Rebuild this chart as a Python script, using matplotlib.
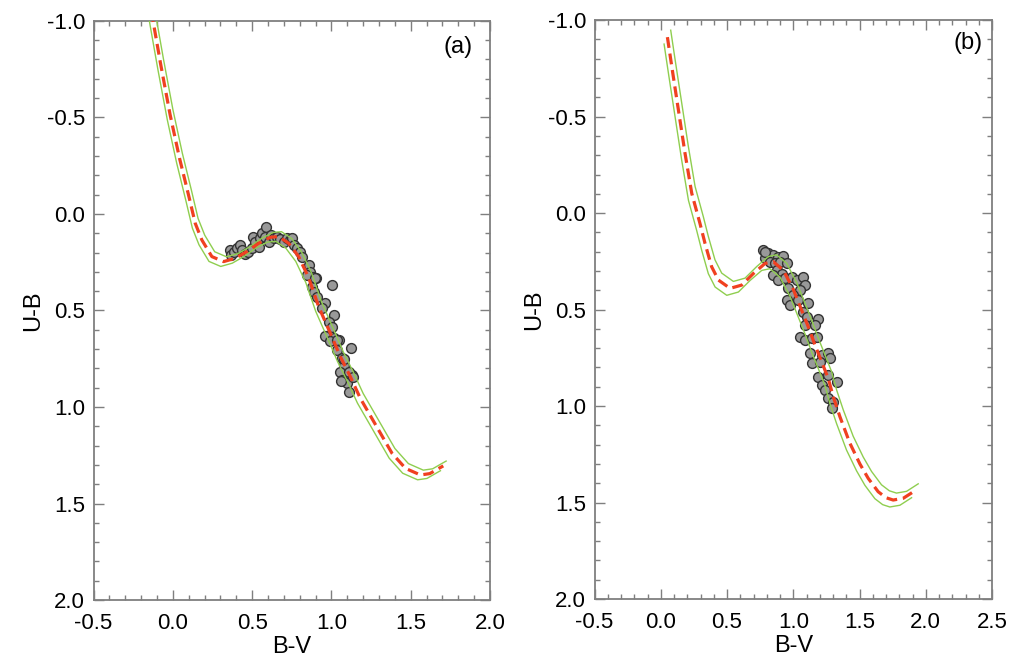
import matplotlib
matplotlib.use("Agg")
import matplotlib.pyplot as plt
from matplotlib.ticker import MultipleLocator

plt.rcParams['font.family'] = ['Liberation Sans', 'DejaVu Sans']

# panel (a): fitted ZAMS (red dashed)
zams_bv_a = [-0.135, -0.126, -0.076, -0.017, 0.042, 0.099, 0.141, 0.183, 0.246, 0.32,
             0.393, 0.467, 0.541, 0.614, 0.667, 0.73, 0.793, 0.856, 0.919, 0.993,
             1.056, 1.119, 1.182, 1.309, 1.382, 1.467, 1.561, 1.62, 1.677, 1.705]
zams_ub_a = [-1.05, -1.005, -0.772, -0.513, -0.289, -0.098, 0.048, 0.135, 0.221, 0.247,
             0.23, 0.195, 0.152, 0.121, 0.117, 0.152, 0.221, 0.33, 0.48, 0.618,
             0.739, 0.843, 0.955, 1.136, 1.24, 1.318, 1.352, 1.345, 1.318, 1.305]
shift_a = (0.018, -0.025)   # offset of the green bounding curves

# panel (a): cluster stars
bv_a = [0.362, 0.366, 0.383, 0.404, 0.425, 0.435, 0.456, 0.477, 0.498, 0.505,
        0.52, 0.541, 0.551, 0.562, 0.589, 0.583, 0.604, 0.618, 0.635, 0.656,
        0.677, 0.698, 0.72, 0.741, 0.751, 0.762, 0.783, 0.799, 0.814, 0.856,
        0.867, 0.884, 0.905, 1.003, 0.877, 0.888, 0.846, 0.898, 0.909, 0.961,
        0.94, 1.014, 0.982, 1.004, 0.968, 1.014, 1.046, 1.124, 1.035, 1.067,
        1.077, 1.056, 1.13, 1.067, 1.098, 1.109, 0.962, 0.989, 1.036, 1.078,
        1.109, 1.137, 1.063]
ub_a = [0.187, 0.212, 0.199, 0.178, 0.161, 0.187, 0.209, 0.199, 0.178, 0.118,
        0.143, 0.169, 0.126, 0.10, 0.066, 0.118, 0.143, 0.109, 0.123, 0.118,
        0.13, 0.143, 0.126, 0.135, 0.123, 0.161, 0.178, 0.199, 0.221, 0.264,
        0.299, 0.325, 0.333, 0.368, 0.377, 0.403, 0.316, 0.333, 0.428, 0.463,
        0.489, 0.523, 0.558, 0.584, 0.632, 0.644, 0.653, 0.696, 0.705, 0.748,
        0.782, 0.817, 0.834, 0.86, 0.874, 0.921, 0.634, 0.658, 0.655, 0.749,
        0.818, 0.844, 0.864]

# panel (b): fitted ZAMS
zams_bv_b = [0.05, 0.083, 0.133, 0.183, 0.234, 0.296, 0.334, 0.384, 0.435, 0.523,
             0.611, 0.699, 0.787, 0.849, 0.925, 1.0, 1.063, 1.113, 1.164, 1.214,
             1.264, 1.302, 1.352, 1.427, 1.503, 1.566, 1.641, 1.70, 1.754, 1.83,
             1.918]
zams_ub_b = [-0.912, -0.76, -0.535, -0.31, -0.102, 0.054, 0.157, 0.278, 0.347, 0.39,
             0.373, 0.313, 0.261, 0.252, 0.296, 0.395, 0.503, 0.589, 0.684, 0.77,
             0.857, 0.952, 1.055, 1.192, 1.30, 1.375, 1.444, 1.475, 1.487, 1.478,
             1.439]
shift_b = (0.025, -0.036)

bv_b = [0.774, 0.812, 0.849, 0.887, 0.925, 0.787, 0.824, 0.862, 0.90, 0.95,
        0.875, 0.912, 0.849, 0.887, 0.937, 0.988, 1.025, 1.076, 1.088, 1.05,
        0.962, 1.0, 0.95, 0.975, 1.038, 1.113, 1.076, 1.101, 1.189, 1.088,
        1.164, 1.05, 1.088, 1.138, 1.176, 1.126, 1.214, 1.264, 1.277, 1.138,
        1.201, 1.189, 1.264, 1.327, 1.214, 1.239, 1.264, 1.302, 1.289, 0.787]
ub_b = [0.192, 0.209, 0.218, 0.226, 0.223, 0.235, 0.252, 0.261, 0.252, 0.261,
        0.295, 0.313, 0.321, 0.347, 0.338, 0.33, 0.347, 0.33, 0.373, 0.399,
        0.39, 0.425, 0.451, 0.477, 0.451, 0.468, 0.511, 0.537, 0.551, 0.58,
        0.58, 0.641, 0.658, 0.649, 0.641, 0.724, 0.736, 0.727, 0.753, 0.779,
        0.77, 0.848, 0.839, 0.874, 0.891, 0.917, 0.96, 0.977, 1.012, 0.20]

fig = plt.figure(figsize=(10.21, 6.72), dpi=100)
ax_a = fig.add_axes([0.0916, 0.107, 0.3884, 0.862])
ax_b = fig.add_axes([0.5823, 0.1086, 0.3893, 0.8614])

panels = [
    (ax_a, zams_bv_a, zams_ub_a, shift_a, bv_a, ub_a, 2.0, '(a)', 0.919, 0.955),
    (ax_b, zams_bv_b, zams_ub_b, shift_b, bv_b, ub_b, 2.5, '(b)', 0.940, 0.960),
]

for ax, zx, zy, sh, sx, sy, xmax, tag, tx, ty in panels:
    ax.scatter(sx, sy, s=50, facecolor='#999999', edgecolor='#333333',
               linewidth=1.0, zorder=2)
    ax.plot([x + sh[0] for x in zx], [y + sh[1] for y in zy],
            color='#8fce4f', lw=1.0, zorder=3)
    ax.plot([x - sh[0] for x in zx], [y - sh[1] for y in zy],
            color='#8fce4f', lw=1.0, zorder=3)
    ax.plot(zx, zy, color='#f04020', lw=2.3, linestyle=(0, (3.4, 1.8)), zorder=4)

    ax.set_xlim(-0.5, xmax)
    ax.set_ylim(2.0, -1.0)
    ax.xaxis.set_major_locator(MultipleLocator(0.5))
    ax.xaxis.set_minor_locator(MultipleLocator(0.1))
    ax.yaxis.set_major_locator(MultipleLocator(0.5))
    ax.yaxis.set_minor_locator(MultipleLocator(0.1))
    ax.xaxis.set_major_formatter(plt.FormatStrFormatter('%.1f'))
    ax.yaxis.set_major_formatter(plt.FormatStrFormatter('%.1f'))
    ax.tick_params(which='both', direction='in', top=True, right=True,
                   color='#7f7f7f', labelsize=16, width=1.0)
    ax.tick_params(which='major', length=7.5, pad=6)
    ax.tick_params(axis='x', which='major', pad=9)
    ax.tick_params(which='minor', length=3.8)
    for sp in ax.spines.values():
        sp.set_color('#7f7f7f')
        sp.set_linewidth(1.3)
    ax.set_xlabel('B-V', fontsize=17, labelpad=2)
    ax.set_ylabel('U-B', fontsize=17, labelpad=2)
    ax.text(tx, ty, tag, transform=ax.transAxes, ha='center', va='center',
            fontsize=17)

fig.savefig('out.png', dpi=100)
